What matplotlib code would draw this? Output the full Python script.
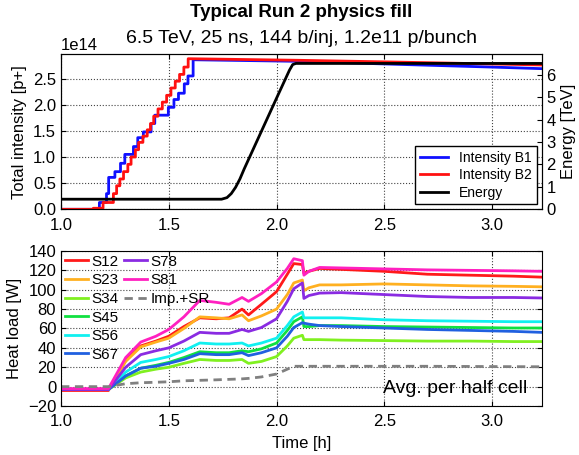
import numpy as np
import matplotlib
matplotlib.use("Agg")
import matplotlib.pyplot as plt
from matplotlib.ticker import MultipleLocator
from matplotlib.lines import Line2D

plt.rcParams['font.family'] = ['Liberation Sans', 'DejaVu Sans']
plt.rcParams['xtick.direction'] = 'in'
plt.rcParams['ytick.direction'] = 'in'
plt.rcParams['xtick.top'] = True
plt.rcParams['ytick.right'] = True

# --- top panel: injection steps (time of each rise, level after it, 1e14 p)
t_b1 = [1.0, 1.178, 1.211, 1.221, 1.250, 1.276, 1.296, 1.336, 1.356, 1.382,
        1.418, 1.435, 1.498, 1.524, 1.545, 1.572, 1.589, 1.613]
i_b1 = [0.0, 0.13, 0.30, 0.61, 0.72, 0.88, 1.05, 1.20, 1.37, 1.48,
        1.64, 1.80, 1.95, 2.10, 2.22, 2.40, 2.55, 2.86]
t_b2 = [1.0, 1.150, 1.195, 1.243, 1.258, 1.273, 1.290, 1.310, 1.325, 1.345,
        1.360, 1.380, 1.400, 1.415, 1.430, 1.450, 1.470, 1.490, 1.510, 1.530,
        1.550, 1.570, 1.590]
i_b2 = [0.0, 0.02, 0.13, 0.30, 0.45, 0.58, 0.72, 0.86, 1.00, 1.14,
        1.28, 1.40, 1.52, 1.64, 1.78, 1.92, 2.05, 2.18, 2.32, 2.45,
        2.58, 2.72, 2.88]
# slow decay after filling
t_b1_decay = [2.1, 2.5, 3.0, 3.23]
i_b1_decay = [2.83, 2.78, 2.72, 2.69]
t_b2_decay = [2.1, 2.5, 3.0, 3.23]
i_b2_decay = [2.85, 2.82, 2.78, 2.76]

t_en = [1.0, 1.745, 1.77, 1.79, 1.81, 1.83, 1.85, 1.9, 2.0, 2.06, 2.075, 2.09, 3.23]
energy = [0.45, 0.45, 0.52, 0.70, 0.98, 1.35, 1.80, 2.85, 4.95, 6.20, 6.45, 6.5, 6.5]

# --- bottom panel: heat loads [W]
t_hl = [1.0, 1.22, 1.3, 1.37, 1.44, 1.5, 1.57, 1.644, 1.72, 1.78, 1.84, 1.87,
        1.93, 2.0, 2.05, 2.08, 2.12, 2.127, 2.15, 2.2, 2.3, 2.5, 2.7, 2.9, 3.1, 3.23]
hl = {
    'S12': [-4, -4, 27, 42, 47, 52, 62, 71, 70, 71, 80, 74, 85, 98, 116, 127, 126,
            117, 119, 122, 121, 119, 116, 115, 114, 113],
    'S23': [-3, -3, 26, 41, 46, 50, 60, 72, 71, 70, 74, 68, 73, 80, 95, 107, 110,
            99, 102, 105, 105, 106, 105, 104, 103.5, 103],
    'S34': [-3, -3, 9, 15, 18, 20, 24, 28, 27, 27, 28, 24, 26, 31, 42, 50, 53,
            48.5, 48.5, 48.5, 48, 47.5, 47, 47, 46.5, 46.5],
    'S45': [-3, -3, 11, 19, 22, 25, 30, 36, 35, 35, 37, 36, 39, 45, 58, 67, 72,
            62, 62, 63, 63, 62, 61.5, 61, 60.5, 60.5],
    'S56': [-3, -3, 15, 25, 28, 31, 37, 45, 44, 44, 45, 42, 45, 50, 63, 72, 77,
            71, 71, 71, 71, 69, 68, 67.5, 67, 67],
    'S67': [-3, -3, 11, 19, 21, 24, 28, 34, 33, 33, 35, 32, 35, 40, 52, 61, 66,
            65.5, 64.5, 63, 62, 60.5, 59, 58, 57, 56],
    'S78': [-3, -3, 20, 33, 37, 40, 47, 56, 55, 55, 59, 57, 61, 70, 88, 101, 107,
            91, 94, 96.5, 97, 95, 93, 92, 92, 91.5],
    'S81': [-2, -2, 30, 46, 52, 59, 72, 89, 87, 85, 92, 88, 96, 108, 122, 132, 130,
            115, 119, 123, 122.5, 121.5, 120.5, 120, 119.5, 119],
}
imp_sr = [0, 0, 3, 4, 4.5, 5, 6, 6.5, 7, 7.5, 8, 8.5, 10, 13, 18, 21, 21,
          21, 21, 21, 21, 21, 21, 20.8, 20.6, 20.5]

sectors = ['S12', 'S23', 'S34', 'S45', 'S56', 'S67', 'S78', 'S81']
colors = {'S12': '#ff1a1a', 'S23': '#ffb020', 'S34': '#80f020', 'S45': '#10e040',
          'S56': '#10f0f0', 'S67': '#2060e0', 'S78': '#8a2be2', 'S81': '#ff20c0'}


def staircase(t, lev, t_tail, lev_tail):
    x = list(np.repeat(t, 2)[1:]) + list(t_tail)
    y = list(np.repeat(lev, 2)[:-1]) + list(lev_tail)
    return np.array(x), np.array(y) * 1e14


fig = plt.figure(figsize=(5.79, 4.55), dpi=100)
ax1 = fig.add_axes([0.1054, 0.540, 0.830, 0.3413])
ax2 = fig.add_axes([0.1054, 0.1077, 0.830, 0.3407])

x1, y1 = staircase(t_b1, i_b1, t_b1_decay, i_b1_decay)
x2, y2 = staircase(t_b2, i_b2, t_b2_decay, i_b2_decay)
l1, = ax1.plot(x1, y1, color='#1010ff', lw=2, label='Intensity B1')
l2, = ax1.plot(x2, y2, color='#ff1010', lw=2, label='Intensity B2')
ax1.set_xlim(1.0, 3.23)
ax1.set_ylim(0, 2.97e14)
ax1.xaxis.set_major_locator(MultipleLocator(0.5))
ax1.yaxis.set_major_locator(MultipleLocator(0.5e14))
ax1.set_ylabel('Total intensity [p+]', fontsize=12)
ax1.grid(True, ls=':', color='#444444', lw=0.8)
ax1.tick_params(labelsize=12, right=False)
ax1.tick_params(axis='x', pad=6)
ax1.yaxis.get_offset_text().set_fontsize(12)

axe = ax1.twinx()
l3, = axe.plot(t_en, energy, color='black', lw=2, label='Energy')
axe.set_ylim(0, 6.92)
axe.set_yticks(range(0, 7))
axe.set_ylabel('Energy [TeV]', fontsize=12)
axe.tick_params(labelsize=12, direction='in')
axe.set_xlim(1.0, 3.23)
leg = axe.legend(handles=[l1, l2, l3], loc='lower right', fontsize=10,
                 fancybox=False, edgecolor='black', framealpha=1,
                 borderaxespad=0.35, labelspacing=0.25, borderpad=0.35)
leg.get_frame().set_linewidth(1.0)

handles = []
for name in sectors:
    h, = ax2.plot(t_hl, hl[name], color=colors[name], lw=2, label=name)
    handles.append(h)
h_imp, = ax2.plot(t_hl, imp_sr, color='#808080', lw=2, dashes=(3, 2), label='Imp.+SR')
blank = Line2D([], [], color='none')
leg_handles = handles + [h_imp, blank, blank, blank]
leg_labels = sectors + ['Imp.+SR', '', '', '']
ax2.legend(leg_handles, leg_labels, loc='upper left', ncol=2, fontsize=11,
           frameon=False, handlelength=1.5, handletextpad=0.25,
           columnspacing=0.35, labelspacing=0.3, borderaxespad=0.0,
           borderpad=0.25)

ax2.set_xlim(1.0, 3.23)
ax2.set_ylim(-20, 140)
ax2.set_yticks(range(-20, 141, 20))
ax2.xaxis.set_major_locator(MultipleLocator(0.5))
ax2.set_xlabel('Time [h]', fontsize=12, labelpad=5)
ax2.set_ylabel('Heat load [W]', fontsize=12)
ax2.grid(True, ls=':', color='#444444', lw=0.8)
ax2.tick_params(labelsize=12)
ax2.tick_params(axis='x', pad=6)
ax2.text(0.97, 0.06, 'Avg. per half cell', transform=ax2.transAxes,
         ha='right', va='bottom', fontsize=14)

fig.text(0.52, 0.973, 'Typical Run 2 physics fill', ha='center', va='center',
         fontsize=13.5, fontweight='bold')
fig.text(0.52, 0.916, '6.5 TeV, 25 ns, 144 b/inj, 1.2e11 p/bunch',
         ha='center', va='center', fontsize=14)

plt.savefig('out.png', dpi=100)
